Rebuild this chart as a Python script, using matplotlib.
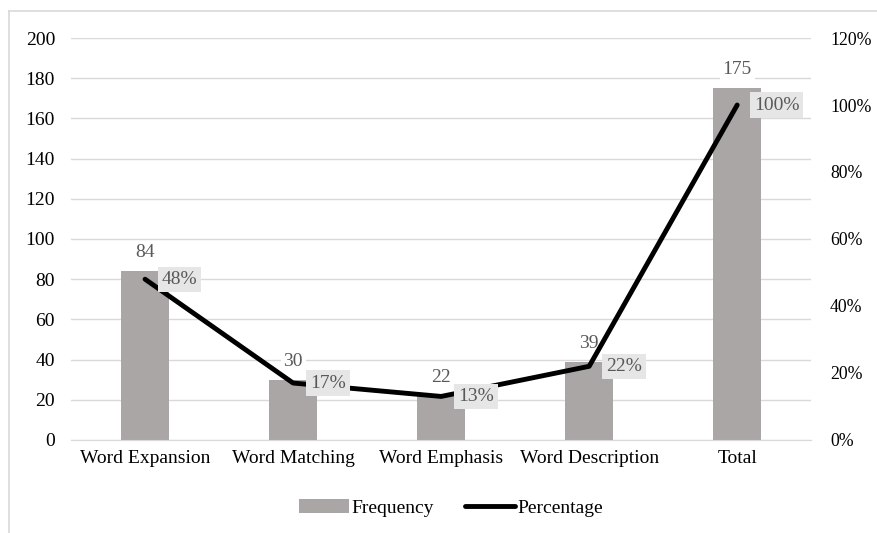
import numpy as np
import matplotlib.pyplot as plt
from matplotlib.lines import Line2D
from matplotlib.patches import Patch

plt.rcParams['font.family'] = ['Liberation Serif', 'DejaVu Serif']

categories = ['Word Expansion', 'Word Matching', 'Word Emphasis', 'Word Description', 'Total']
frequency = [84, 30, 22, 39, 175]
percentage = [48, 17, 13, 22, 100]

bar_color = '#aaa6a6'
grid_color = '#d9d9d9'
label_color = '#595959'
fs = 14

fig = plt.figure(figsize=(8.77, 5.33), dpi=100)
ax = fig.add_axes([0.081, 0.1745, 0.844, 0.7542])
ax2 = ax.twinx()

x = np.arange(len(categories))
ax.bar(x, frequency, width=0.325, color=bar_color, zorder=2)
ax.set_ylim(0, 200)
ax.set_xlim(-0.5, len(categories) - 0.5)
ax.set_yticks(np.arange(0, 201, 20))
ax.set_xticks(x)
ax.set_xticklabels(categories, fontsize=fs)
ax.yaxis.grid(True, color=grid_color, linewidth=1, zorder=0)
ax.set_axisbelow(True)
ax.tick_params(length=0, labelsize=fs, pad=7)
ax.tick_params(axis='y', pad=11.5)
for s in ax.spines.values():
    s.set_visible(False)
ax.spines['bottom'].set_visible(True)
ax.spines['bottom'].set_color(grid_color)

for xi, v in zip(x, frequency):
    ax.text(xi, v + 5, str(v), ha='center', va='bottom', fontsize=fs, color=label_color,
            bbox=dict(facecolor='white', edgecolor='none', pad=2), zorder=3)

ax2.plot(x, np.array(percentage) / 100, color='black', linewidth=3.5,
         solid_capstyle='round', solid_joinstyle='round', zorder=4)
ax2.set_ylim(0, 1.2)
ax2.set_yticks(np.arange(0, 1.21, 0.2))
ax2.set_yticklabels([f'{int(round(t * 100))}%' for t in np.arange(0, 1.21, 0.2)])
ax2.tick_params(length=0, labelsize=12.8, pad=13.5)
for s in ax2.spines.values():
    s.set_visible(False)

for xi, p in zip(x, percentage):
    ax2.annotate(f'{p}%', (xi, p / 100), xytext=(12, 0), textcoords='offset points',
                 ha='left', va='center', fontsize=fs, color=label_color,
                 bbox=dict(facecolor='#e7e6e6', edgecolor='none', pad=3), zorder=5)

handles = [Patch(facecolor=bar_color, edgecolor='none'),
           Line2D([0], [0], color='black', linewidth=3.5, solid_capstyle='round')]
fig.legend(handles, ['Frequency', 'Percentage'], loc='center', bbox_to_anchor=(0.514, 0.047),
           ncol=2, frameon=False, fontsize=fs, handlelength=2.6, handletextpad=0.1,
           columnspacing=1.6)

# outer chart border
fig.add_artist(Line2D([0.0103, 0.0103], [0.0, 0.979], color=grid_color, linewidth=1.2))
fig.add_artist(Line2D([0.0103, 1.0], [0.979, 0.979], color=grid_color, linewidth=1.2))

fig.savefig('out.png', dpi=100)
